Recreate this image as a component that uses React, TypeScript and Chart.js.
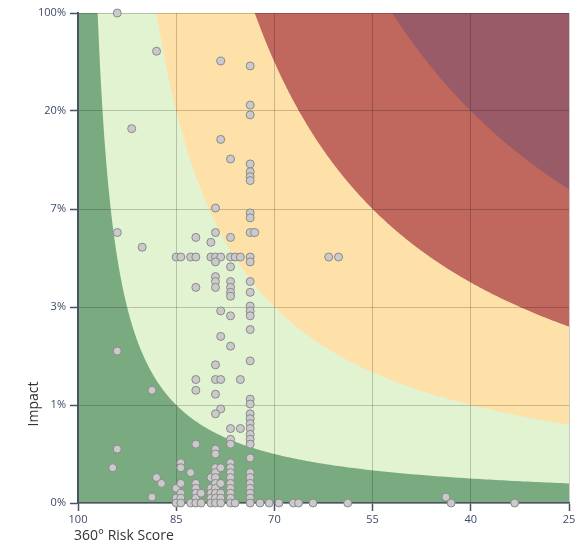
import { useEffect, useRef } from "react";
import { Chart, registerables } from "chart.js";

Chart.register(...registerables);

// Axis tick labels and titles
const impactTickLabels = ["0%", "1%", "3%", "7%", "20%", "100%"];
const impactTickValues = [0, 1, 2, 3, 4, 5];
const scoreTicks = [100, 85, 70, 55, 40, 25];
const xTitle = "360° Risk Score";
const yTitle = "Impact";

// Risk zones: boundaries where (100 - score) * impactLevel = level
const zoneLevels = [15, 60, 135, 240];
const zoneColors = ["#7aaa7f", "#e2f3d2", "#fee1a8", "#c0675e", "#9a5b69"];

// Scatter points: 360° risk score and impact level (axis units, 0..5 = 0%..100%)
const riskScores = [
  94.0, 88.0, 78.2, 73.7, 73.7, 73.7, 91.8, 78.2, 76.7, 73.7, 73.7, 73.7, 73.7,
  79.0, 73.7, 73.7, 94.0, 90.2, 82.0, 79.0, 79.7, 76.7, 73.7, 73.0,
  85.0, 84.3, 82.8, 82.0, 79.7, 79.0, 78.2, 76.7, 76.0, 75.2, 73.7, 61.7, 60.2,
  79.0, 73.7, 76.7,
  79.0, 79.0, 79.0, 82.0, 76.7, 76.7, 76.7, 76.7, 73.7, 73.7,
  73.7, 73.7, 73.7, 78.2, 76.7,
  73.7, 78.2, 76.7, 73.7, 79.0,
  82.0, 79.0, 78.2, 75.2,
  94.0, 88.7, 82.0, 79.0,
  73.7, 73.7, 73.7, 73.7, 73.7, 73.7, 73.7, 73.7, 73.7, 73.7, 73.7, 73.7, 73.7, 73.7, 73.7, 73.7, 73.7,
  78.2, 79.0, 75.2, 82.0, 94.0, 94.7, 88.0, 87.25, 88.7,
  85.0, 85.0, 85.0,
  84.3, 84.3, 84.3, 84.3, 84.3, 84.3,
  82.8, 82.8,
  82.0, 82.0, 82.0, 82.0, 82.0,
  81.2, 81.2,
  79.7, 79.7, 79.7, 79.7, 79.7,
  79.0, 79.0, 79.0, 79.0, 79.0, 79.0, 79.0, 79.0, 79.0, 79.0,
  78.2, 78.2, 78.2, 78.2, 78.2,
  76.7, 76.7, 76.7, 76.7, 76.7, 76.7, 76.7, 76.7, 76.7, 76.7, 76.7, 76.7,
  76.0,
  72.2, 70.8, 69.3, 67.1, 66.3, 64.1, 58.8, 43.0, 33.3, 43.8,
];

const impactLevels = [
  5.0, 4.61, 4.51, 4.46, 4.06, 3.96, 3.82, 3.71, 3.51, 3.46, 3.38, 3.33, 3.29,
  3.01, 2.96, 2.91, 2.76, 2.61, 2.71, 2.76, 2.66, 2.71, 2.76, 2.76,
  2.51, 2.51, 2.51, 2.51, 2.51, 2.51, 2.51, 2.51, 2.51, 2.51, 2.51, 2.51, 2.51,
  2.46, 2.46, 2.41,
  2.31, 2.26, 2.2, 2.2, 2.26, 2.2, 2.15, 2.11, 2.26, 2.15,
  2.01, 1.96, 1.91, 1.96, 1.91,
  1.77, 1.7, 1.6, 1.45, 1.41,
  1.26, 1.26, 1.26, 1.26,
  1.55, 1.15, 1.15, 1.11,
  1.06, 1.01, 0.91, 0.86, 0.81, 0.76, 0.7, 0.65, 0.6, 0.46, 0.31, 0.26, 0.2, 0.15, 0.1, 0.05, 0.0,
  0.96, 0.91, 0.76, 0.6, 0.55, 0.36, 0.26, 0.2, 0.06,
  0.15, 0.05, 0.0,
  0.41, 0.36, 0.2, 0.1, 0.05, 0.0,
  0.31, 0.0,
  0.2, 0.15, 0.1, 0.05, 0.0,
  0.1, 0.0,
  0.26, 0.15, 0.1, 0.05, 0.0,
  0.55, 0.5, 0.36, 0.31, 0.26, 0.2, 0.15, 0.1, 0.05, 0.0,
  0.36, 0.2, 0.1, 0.05, 0.0,
  0.76, 0.65, 0.6, 0.41, 0.36, 0.31, 0.26, 0.2, 0.15, 0.1, 0.05, 0.0,
  0.0,
  0.0, 0.0, 0.0, 0.0, 0.0, 0.0, 0.0, 0.0, 0.0, 0.06,
];

const FONT = "'Open Sans', 'DejaVu Sans', sans-serif";
const AXIS_COLOR = "#4a5264";
const LABEL_COLOR = "#3e4a66";
const GRID_COLOR = "rgba(0,0,0,0.2)";

const zonePlugin = {
  id: "riskZones",
  beforeDraw(chart: any) {
    const { ctx, chartArea: a, scales } = chart;
    const xs = scales.x;
    const ys = scales.y;
    if (!a || !xs || !ys) return;
    ctx.save();
    ctx.beginPath();
    ctx.rect(a.left, a.top, a.right - a.left, a.bottom - a.top);
    ctx.clip();
    ctx.fillStyle = zoneColors[0];
    ctx.fillRect(a.left, a.top, a.right - a.left, a.bottom - a.top);
    const origin = xs.max;
    const span = xs.max - xs.min;
    const yTop = ys.max;
    zoneLevels.forEach((level, i) => {
      const d0 = level / yTop;
      const steps = 400;
      ctx.beginPath();
      ctx.moveTo(xs.getPixelForValue(origin - d0), ys.getPixelForValue(yTop));
      for (let s = 1; s <= steps; s++) {
        const d = d0 * Math.pow(span / d0, s / steps);
        ctx.lineTo(xs.getPixelForValue(origin - d), ys.getPixelForValue(level / d));
      }
      ctx.lineTo(a.right + 2, a.bottom);
      ctx.lineTo(a.right + 2, a.top - 2);
      ctx.lineTo(xs.getPixelForValue(origin - d0), a.top - 2);
      ctx.closePath();
      ctx.fillStyle = zoneColors[i + 1];
      ctx.fill();
    });
    ctx.restore();
  },
  afterDraw(chart: any) {
    const { ctx, chartArea: a } = chart;
    ctx.save();
    ctx.font = `14px ${FONT}`;
    ctx.fillStyle = "#333333";
    ctx.textBaseline = "middle";
    ctx.textAlign = "left";
    ctx.fillText(xTitle, a.left - 4, 536);
    ctx.translate(34, 404);
    ctx.rotate(-Math.PI / 2);
    ctx.textAlign = "center";
    ctx.fillText(yTitle, 0, 0);
    ctx.restore();
  },
};

export default function App() {
  const ref = useRef<HTMLCanvasElement | null>(null);

  useEffect(() => {
    document.documentElement.style.overflow = "hidden";
    document.body.style.overflow = "hidden";
    const canvas = ref.current;
    if (!canvas) return;
    const data = riskScores.map((s, i) => ({ x: s, y: impactLevels[i] }));
    const chart = new Chart(canvas, {
      type: "scatter",
      data: {
        datasets: [
          {
            data,
            pointRadius: 4,
            pointHoverRadius: 4,
            pointBackgroundColor: "#cacaca",
            pointBorderColor: "#8a8a8a",
            pointBorderWidth: 1,
            clip: false as any,
          },
        ],
      },
      options: {
        animation: false,
        responsive: false,
        devicePixelRatio: 1,
        layout: { padding: { top: 13, right: 21, left: 0, bottom: 0 } },
        plugins: {
          legend: { display: false },
          tooltip: { enabled: false },
        },
        scales: {
          x: {
            type: "linear",
            reverse: true,
            min: 25,
            max: 100,
            afterBuildTicks: (s: any) => {
              s.ticks = scoreTicks.map((v) => ({ value: v }));
            },
            afterFit: (s: any) => {
              s.height = 42;
            },
            ticks: {
              color: LABEL_COLOR,
              font: { family: FONT, size: 11 },
              padding: 2,
              maxRotation: 0,
              autoSkip: false,
            },
            grid: {
              color: GRID_COLOR,
              lineWidth: 1,
              tickColor: AXIS_COLOR,
              tickLength: 8,
              tickWidth: 1.5,
            } as any,
            border: { color: AXIS_COLOR, width: 1.5 },
          },
          y: {
            type: "linear",
            min: 0,
            max: 5,
            afterBuildTicks: (s: any) => {
              s.ticks = impactTickValues.map((v) => ({ value: v }));
            },
            afterFit: (s: any) => {
              s.width = 78;
            },
            ticks: {
              color: LABEL_COLOR,
              font: { family: FONT, size: 11 },
              padding: 4,
              autoSkip: false,
              callback: (v: any) => impactTickLabels[impactTickValues.indexOf(Number(v))] ?? "",
            },
            grid: {
              color: GRID_COLOR,
              lineWidth: 1,
              tickColor: AXIS_COLOR,
              tickLength: 8,
              tickWidth: 1.5,
            } as any,
            border: { color: AXIS_COLOR, width: 2 },
          },
        },
      },
      plugins: [zonePlugin],
    });
    return () => chart.destroy();
  }, []);

  return (
    <div style={{ position: "fixed", left: 0, top: 0, width: 590, height: 545 }}>
      <canvas ref={ref} width={590} height={545} style={{ display: "block" }} />
    </div>
  );
}
